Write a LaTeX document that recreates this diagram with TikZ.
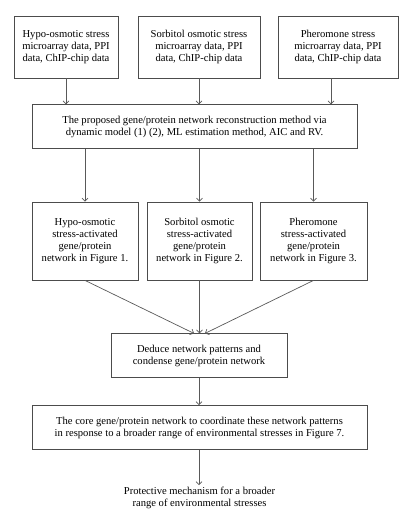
\documentclass[tikz,border=0pt]{standalone}
\usepackage{fontspec}
\setmainfont{Liberation Serif}
\usetikzlibrary{shapes,arrows,arrows.meta,positioning}
\tikzstyle{databox} = [rectangle, draw=black!70, fill=white, line width=0.8pt,
    align=center, minimum height=62pt, inner sep=2pt]
\tikzstyle{widebox} = [rectangle, draw=black!70, fill=white, line width=0.8pt,
    align=center, minimum height=44pt, inner sep=2pt]
\tikzstyle{netbox} = [rectangle, draw=black!70, fill=white, line width=0.8pt,
    align=center, minimum height=78pt, inner sep=2pt]
\tikzstyle{link} = [draw, black!65, line width=0.7pt, ->]

\begin{document}
\begin{tikzpicture}[>={Straight Barb[length=3pt,width=6pt]}, font=\fontsize{10.6pt}{12pt}\selectfont]
    \useasboundingbox (0,0) rectangle (411pt,-517pt);

    % input data
    \node[databox, minimum width=104pt] (hypoData) at (66pt,-47pt)
        {Hypo-osmotic stress\\microarray data, PPI\\data, ChIP-chip data};
    \node[databox, minimum width=122pt] (sorbData) at (199pt,-47pt)
        {Sorbitol osmotic stress\\microarray data, PPI\\data, ChIP-chip data};
    \node[databox, minimum width=120pt] (pherData) at (338pt,-47pt)
        {Pheromone stress\\microarray data, PPI\\data, ChIP-chip data};

    \node[widebox, minimum width=325pt, below=26pt of sorbData, xshift=-4.5pt] (method)
        {The proposed gene/protein network reconstruction method via\\dynamic model (1) (2), ML estimation method, AIC and RV.};

    % activated networks
    \node[netbox, minimum width=106pt] (hypoNet) at (85pt,-241pt)
        {Hypo-osmotic\\stress-activated\\gene/protein\\network in Figure 1.};
    \node[netbox, minimum width=105pt] (sorbNet) at (199.5pt,-241pt)
        {Sorbitol osmotic\\stress-activated\\gene/protein\\network in Figure 2.};
    \node[netbox, minimum width=107pt] (pherNet) at (313.5pt,-241pt)
        {Pheromone\\stress-activated\\gene/protein\\network in Figure 3.};

    \node[widebox, minimum width=176pt, below=53pt of sorbNet, xshift=-0.5pt] (deduce)
        {Deduce network patterns and\\condense gene/protein network};
    \node[widebox, minimum width=335pt, below=27pt of deduce, xshift=0.5pt] (core)
        {The core gene/protein network to coordinate these network patterns\\in response to a broader range of environmental stresses in Figure 7.};
    \node[align=center, inner sep=2pt, below=35pt of core] (protect)
        {Protective mechanism for a broader\\range of environmental stresses};

    \path[link] (hypoData.south) -- (hypoData.south |- method.north);
    \path[link] (sorbData.south) -- (sorbData.south |- method.north);
    \path[link] ([xshift=-7pt]pherData.south) -- ([xshift=-7pt]pherData.south |- method.north);

    \path[link] (method.south -| hypoNet.north) -- (hypoNet.north);
    \path[link] (method.south -| sorbNet.north) -- (sorbNet.north);
    \path[link] (method.south -| pherNet.north) -- (pherNet.north);

    \path[link] (hypoNet.south) -- ([xshift=-5pt]deduce.north);
    \path[link] (sorbNet.south) -- (sorbNet.south |- deduce.north);
    \path[link] (pherNet.south) -- ([xshift=6pt]deduce.north);

    \path[link] (deduce) -- (deduce.south |- core.north);
    \path[link] (core.south -| deduce.south) -- (protect.north -| deduce.south);
  \end{tikzpicture}
\end{document}
